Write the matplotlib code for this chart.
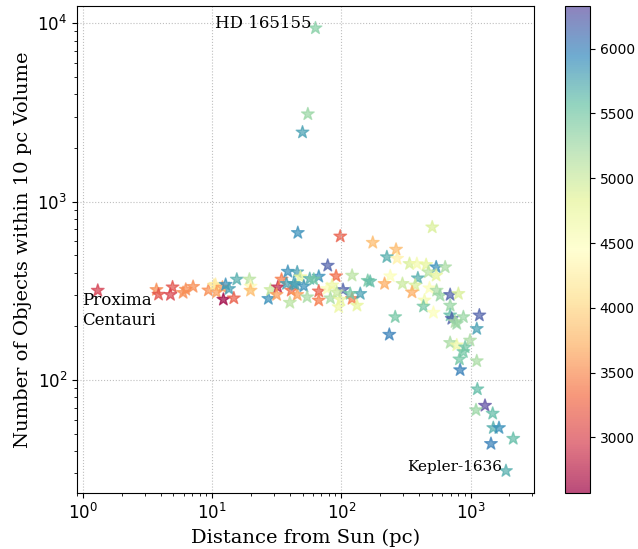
import numpy as np
import matplotlib
matplotlib.use("Agg")
import matplotlib.pyplot as plt

# distance from the Sun (pc), number of objects in a 10 pc volume, host star Teff (K)
dist_pc = [63, 55, 50, 46, 98, 175, 505, 265, 225, 270,
           1.3, 3.7, 3.84, 4.93, 4.75, 5.95, 6.24, 7.11, 9.34, 10.3,
           10.6, 10.8, 12.0, 12.7, 13.5, 12.2, 14.7, 15.5, 19.4, 19.8,
           19.8, 27.2, 28.3, 32.2, 31.5, 34.4, 38.5, 45.5, 37.6, 40.9,
           44.1, 45.5, 39.9, 48.2, 51.2, 54.3, 42.8,
           78.4, 91, 121, 160, 239, 216, 66.8, 56.9, 61.1, 66.8,
           66.8, 77.5, 84.8, 103, 82.2, 98.2, 95.3, 121, 140, 132,
           261, 235, 92, 117,
           337, 384, 453, 542, 636, 472, 542, 391, 297, 373,
           167, 352, 481, 546, 581, 695, 805, 440, 432, 516,
           695, 695, 716, 759, 880, 782, 1170, 1117, 695, 782,
           991, 907, 880, 820, 830, 1117, 1129, 1294, 1102, 1484,
           1500, 1660, 2140, 1439, 1880]
n_objects = [9400, 3100, 2450, 670, 640, 590, 720, 540, 490, 480,
             318, 321, 302, 332, 301, 309, 322, 334, 319, 339,
             343, 311, 331, 343, 325, 283, 288, 367, 367, 335,
             318, 286, 321, 332, 301, 367, 406, 403, 347, 318,
             343, 301, 272, 378, 336, 292, 347,
             439, 383, 386, 361, 383, 347, 381, 370, 367, 315,
             280, 325, 340, 321, 288, 283, 257, 286, 305, 262,
             226, 180, 311, 305,
             449, 449, 443, 430, 430, 403, 386, 373, 347, 340,
             357, 311, 328, 318, 298, 301, 305, 280, 259, 239,
             262, 231, 221, 212, 226, 207, 231, 194, 162, 157,
             167, 153, 144, 131, 114, 128, 89, 72, 68, 65,
             54, 54, 47, 44, 31]
teff = [5400, 5300, 5800, 5900, 3200, 3800, 4900, 3800, 5700, 4300,
        2950, 3500, 3100, 3100, 3000, 3500, 3500, 3500, 3500, 4200,
        4200, 3600, 3600, 5900, 5800, 2570, 3200, 5700, 5100, 4400,
        3800, 5900, 5000, 2800, 3600, 3400, 5900, 5800, 5800, 3300,
        5800, 3600, 5100, 4800, 5900, 5200, 5800,
        6200, 3300, 5100, 5500, 4500, 3700, 5900, 5700, 5500, 3200,
        3400, 4500, 4700, 6200, 5200, 4800, 4700, 3400, 5800, 4800,
        5500, 6000, 5000, 5500,
        4900, 4600, 4800, 5900, 5200, 5100, 4800, 5700, 5000, 4900,
        5600, 3700, 4500, 5200, 5300, 6200, 4900, 4600, 5500, 4500,
        5300, 5600, 6200, 5200, 5300, 5300, 6200, 5800, 5200, 4700,
        5200, 5500, 5500, 5500, 6000, 5200, 5600, 6330, 5300, 5600,
        5700, 5900, 5600, 6000, 5700]

plt.rcParams['font.family'] = 'serif'

fig = plt.figure(figsize=(6.38, 5.49), dpi=100)
ax = fig.add_axes([0.1207, 0.1020, 0.7163, 0.8871])
cax = fig.add_axes([0.8856, 0.1020, 0.0392, 0.8871])

sc = ax.scatter(dist_pc, n_objects, c=teff, cmap='Spectral', marker='*',
                s=90, alpha=0.7)
ax.set_xscale('log')
ax.set_yscale('log')
ax.grid(True, linestyle=':', color='0.75')

ax.set_xlabel('Distance from Sun (pc)', fontsize=14)
ax.set_ylabel('Number of Objects within 10 pc Volume', fontsize=14)
ax.tick_params(labelsize=12)
for lab in ax.get_xticklabels() + ax.get_yticklabels():
    lab.set_family('DejaVu Sans')

ax.text(59, 10000, 'HD 165155', ha='right', va='center', fontsize=12)
ax.text(0.98, 245, 'Proxima\nCentauri', ha='left', va='center', fontsize=12)
ax.text(1750, 32.5, 'Kepler-1636', ha='right', va='center', fontsize=11)

cb = fig.colorbar(sc, cax=cax)
cb.ax.tick_params(labelsize=10)
for lab in cb.ax.get_yticklabels():
    lab.set_family('DejaVu Sans')

fig.savefig('out.png', dpi=100)
